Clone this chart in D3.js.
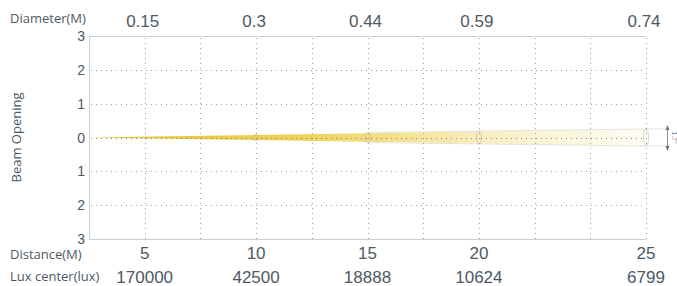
<!DOCTYPE html>
<html><head><meta charset="utf-8">
<script src="https://cdn.jsdelivr.net/npm/d3@7"></script>
<style>body{margin:0;background:#fff}svg{display:block}</style>
</head><body>
<script>
const distances = [5, 10, 15, 20, 25];
const diameters = ["0.15", "0.3", "0.44", "0.59", "0.74"];
const luxCenter = ["170000", "42500", "18888", "10624", "6799"];
const gridSteps = [0, 1, 2, 3, 4, 5, 6, 7, 8, 9, 10];
const distanceGridIndex = [0, 1, 3, 5, 7, 10]; // grid column of 0,5,10,15,20,25
const yTicks = [-3, -2, -1, 0, 1, 2, 3];
const beamAngle = "1.7°";

(function () {
const W = 677, H = 286;
const pL = 89, pR = 646, pT = 36, pB = 239;
const svg = d3.select("body").append("svg").attr("width", W).attr("height", H);

const grid = d3.scaleLinear().domain([0, 10]).range([pL, pR]);
const x = d3.scaleLinear().domain([0].concat(distances)).range(distanceGridIndex.map(grid));
const y = d3.scaleLinear().domain([3, -3]).range([pT, pB]);
const beamR = d3.scaleLinear().domain([0, 0.74]).range([0, 8.5]);
const textC = "#4c5964";
const numFont = "'Liberation Sans', Arial, sans-serif";
const lblFont = "'Open Sans', 'Noto Sans', sans-serif";

const defs = svg.append("defs");
const grad = defs.append("linearGradient").attr("id", "beam").attr("x1", "0").attr("x2", "1");
grad.append("stop").attr("offset", "0").attr("stop-color", "#e6bf2e");
grad.append("stop").attr("offset", "0.4").attr("stop-color", "#f0d45e");
grad.append("stop").attr("offset", "0.72").attr("stop-color", "#f9efc4");
grad.append("stop").attr("offset", "1").attr("stop-color", "#fffdf6");

svg.append("line").attr("x1", pL).attr("x2", pR).attr("y1", pT + 0.5).attr("y2", pT + 0.5).attr("stroke", "#c9cfd3");
svg.append("line").attr("x1", pL).attr("x2", pR).attr("y1", pB + 0.5).attr("y2", pB + 0.5).attr("stroke", "#c9cfd3");
svg.append("line").attr("x1", pL + 0.5).attr("x2", pL + 0.5).attr("y1", pT).attr("y2", pB).attr("stroke", "#c9cfd3");

const xEnd = x(25);
const rEnd = beamR(+diameters[4]);
const beamPts = [[x(0), y(0)], [xEnd, y(0) - rEnd], [xEnd, y(0) + rEnd]];
svg.append("path").attr("d", d3.line()(beamPts) + "Z").attr("fill", "url(#beam)");
svg.append("path").attr("d", d3.line()([[x(15), y(0) - beamR(0.44)], [xEnd, y(0) - rEnd], [667, y(0) - rEnd]]))
  .attr("fill", "none").attr("stroke", "#dcdcd6").attr("stroke-width", 0.8);
svg.append("path").attr("d", d3.line()([[x(15), y(0) + beamR(0.44)], [xEnd, y(0) + rEnd], [667, y(0) + rEnd]]))
  .attr("fill", "none").attr("stroke", "#dcdcd6").attr("stroke-width", 0.8);

distances.slice(1).forEach((d, i) => {
  const r = beamR(+diameters[i + 1]);
  svg.append("ellipse").attr("cx", x(d)).attr("cy", y(0)).attr("rx", 2.5).attr("ry", r)
    .attr("fill", "none").attr("stroke", "#c8c0a0").attr("stroke-width", 0.7);
});

svg.append("g").selectAll("line").data(gridSteps.slice(1)).join("line")
  .attr("x1", d => Math.round(grid(d)) + 0.5).attr("x2", d => Math.round(grid(d)) + 0.5)
  .attr("y1", pT + 2).attr("y2", pB)
  .attr("stroke", "#9aa0a4").attr("stroke-width", 1).attr("stroke-dasharray", "1,4");
svg.append("g").selectAll("line").data(yTicks.filter(d => Math.abs(d) < 3)).join("line")
  .attr("x1", pL + 2).attr("x2", pR)
  .attr("y1", d => Math.round(y(d)) + 0.5).attr("y2", d => Math.round(y(d)) + 0.5)
  .attr("stroke", d => d === 0 ? "#7d858a" : "#9aa0a4").attr("stroke-width", 1).attr("stroke-dasharray", "1,4");

svg.append("g").selectAll("text").data(yTicks).join("text")
  .attr("x", 85).attr("y", d => y(d) + 5).attr("text-anchor", "end")
  .attr("font-family", numFont).attr("font-size", 14).attr("fill", textC)
  .text(d => Math.abs(d));

svg.append("text").attr("transform", `translate(21,${y(0)}) rotate(-90)`).attr("text-anchor", "middle")
  .attr("font-family", lblFont).attr("font-size", 13).attr("fill", textC).text("Beam Opening");

svg.append("text").attr("x", 10).attr("y", 23).attr("font-family", lblFont).attr("font-size", 13)
  .attr("fill", textC).text("Diameter(M)");
svg.append("g").selectAll("text").data(diameters).join("text")
  .attr("x", (d, i) => x(distances[i]) - 2).attr("y", 27).attr("text-anchor", "middle")
  .attr("font-family", numFont).attr("font-size", 17).attr("fill", textC).text(d => d);

svg.append("text").attr("x", 10).attr("y", 259).attr("font-family", lblFont).attr("font-size", 13)
  .attr("fill", textC).text("Distance(M)");
svg.append("g").selectAll("text").data(distances).join("text")
  .attr("x", d => x(d)).attr("y", 259).attr("text-anchor", "middle")
  .attr("font-family", numFont).attr("font-size", 17).attr("fill", textC).text(d => d);

svg.append("text").attr("x", 10).attr("y", 281).attr("font-family", lblFont).attr("font-size", 13)
  .attr("fill", textC).text("Lux center(lux)");
svg.append("g").selectAll("text").data(luxCenter).join("text")
  .attr("x", (d, i) => x(distances[i])).attr("y", 283).attr("text-anchor", "middle")
  .attr("font-family", numFont).attr("font-size", 17).attr("fill", textC).text(d => d);

const ax = 667.5, ay1 = y(0) - rEnd - 4, ay2 = y(0) + rEnd + 5;
svg.append("line").attr("x1", ax).attr("x2", ax).attr("y1", ay1 + 2).attr("y2", ay2 - 2).attr("stroke", "#6c7378").attr("stroke-width", 0.8);
svg.append("path").attr("d", `M${ax - 2},${ay1 + 5}L${ax},${ay1}L${ax + 2},${ay1 + 5}Z`).attr("fill", "#6c7378");
svg.append("path").attr("d", `M${ax - 2},${ay2 - 5}L${ax},${ay2}L${ax + 2},${ay2 - 5}Z`).attr("fill", "#6c7378");
svg.append("text").attr("transform", `translate(672,${y(0)}) rotate(90)`).attr("text-anchor", "middle")
  .attr("font-family", numFont).attr("font-size", 7).attr("fill", "#7a8185").text(beamAngle);
})();
</script>
</body></html>
